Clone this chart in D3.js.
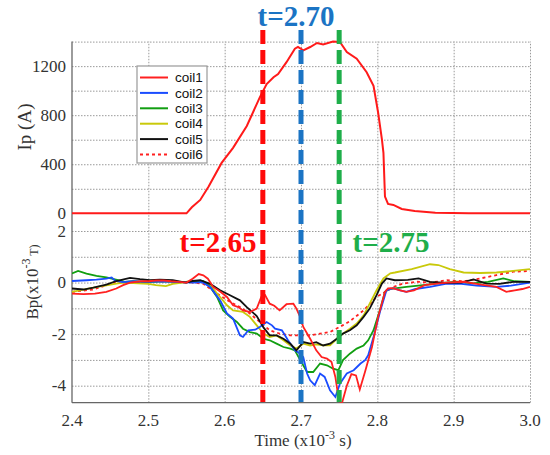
<!DOCTYPE html>
<html>
<head>
<meta charset="utf-8">
<script src="https://cdn.jsdelivr.net/npm/d3@7"></script>
<style>
  body { margin: 0; background: #fff; }
  svg { display: block; }
  .grid line { stroke: #9a9a9a; stroke-dasharray: 1.5,1.5; stroke-width: 1; }
  .grid path { display: none; }
</style>
</head>
<body>
<svg id="chart" width="550" height="455"></svg>
<script>
// ---- data ----
var timeTicks = [2.4, 2.5, 2.6, 2.7, 2.8, 2.9, 3.0];
var ipTicks = [0, 400, 800, 1200];
var bpTicks = [2, 0, -2, -4];
var markerTimes = [2.65, 2.70, 2.75];
var markerLabels = ["t=2.65", "t=2.70", "t=2.75"];
var coilNames = ["coil1", "coil2", "coil3", "coil4", "coil5", "coil6"];

// plasma current Ip (A) vs time (x10^-3 s)
var ipCurve = [[2.40,0],[2.550,0],[2.557,49],[2.568,109],[2.579,219],[2.596,411],[2.611,534],
  [2.629,712],[2.646,945],[2.655,1054],[2.664,1109],[2.670,1136],[2.681,1232],[2.692,1342],
  [2.696,1356],[2.703,1328],[2.712,1356],[2.721,1389],[2.729,1377],[2.742,1400],[2.751,1397],
  [2.760,1315],[2.773,1260],[2.786,1150],[2.795,1040],[2.801,822],[2.806,602],[2.808,493],
  [2.810,136],[2.814,76],[2.821,68],[2.832,35],[2.849,19],[2.876,5],[2.92,0],[3.0,0]];

// Bp (x10^-3 T) for each coil
var coil1 = [[2.400,-0.43],[2.415,-0.45],[2.430,-0.43],[2.445,-0.36],[2.458,-0.23],[2.467,-0.10],
  [2.476,0.00],[2.49,0.05],[2.50,0.05],[2.51,0.08],[2.52,0.08],[2.53,0.05],[2.54,0.03],[2.55,0.0],
  [2.558,0.15],[2.566,0.33],[2.572,0.28],[2.578,0.15],[2.585,-0.17],[2.594,-0.35],[2.603,-0.56],
  [2.611,-0.88],[2.618,-0.95],[2.624,-1.08],[2.633,-1.14],[2.642,-1.01],[2.648,-0.56],[2.653,-0.49],
  [2.659,-0.82],[2.665,-0.90],[2.672,-1.08],[2.681,-0.84],[2.690,-0.82],[2.694,-1.01],[2.699,-1.34],
  [2.703,-1.72],[2.712,-2.18],[2.720,-2.63],[2.727,-2.89],[2.734,-2.95],[2.740,-3.08],[2.745,-3.66],
  [2.749,-4.44],[2.753,-4.75],[2.760,-4.0],[2.766,-3.55],[2.772,-3.6],[2.777,-4.15],[2.784,-3.45],
  [2.793,-2.5],[2.801,-1.34],[2.810,-0.36],[2.814,-0.23],[2.820,-0.22],[2.830,-0.30],[2.838,-0.36],
  [2.848,-0.30],[2.862,-0.10],[2.875,-0.05],[2.891,0.0],[2.913,0.03],[2.930,-0.05],[2.945,-0.12],
  [2.956,-0.17],[2.969,-0.36],[2.980,-0.30],[2.990,-0.25],[3.0,-0.17]];
var coil2 = [[2.400,0.06],[2.419,0.09],[2.432,0.11],[2.445,0.15],[2.452,0.20],[2.456,0.08],
  [2.466,0.02],[2.48,0.05],[2.50,0.03],[2.52,0.05],[2.54,0.02],[2.56,0.0],[2.57,0.02],[2.581,-0.17],
  [2.594,-0.69],[2.603,-1.2],[2.611,-1.4],[2.620,-2.05],[2.624,-2.11],[2.631,-1.85],[2.640,-1.83],
  [2.646,-1.72],[2.655,-1.53],[2.662,-1.66],[2.666,-1.79],[2.675,-1.85],[2.683,-2.24],[2.692,-2.63],
  [2.699,-2.76],[2.703,-2.89],[2.708,-3.53],[2.712,-3.79],[2.718,-3.98],[2.725,-3.53],[2.731,-3.66],
  [2.738,-4.18],[2.745,-4.44],[2.751,-3.92],[2.760,-3.53],[2.769,-3.40],[2.778,-3.14],[2.784,-3.01],
  [2.788,-2.82],[2.795,-2.11],[2.804,-1.08],[2.812,-0.30],[2.821,-0.22],[2.830,-0.30],[2.838,-0.36],
  [2.850,-0.25],[2.869,-0.17],[2.891,-0.04],[2.91,-0.05],[2.93,-0.12],[2.956,-0.17],[2.975,-0.12],[3.0,0.0]];
var coil3 = [[2.400,0.35],[2.408,0.45],[2.419,0.35],[2.432,0.26],[2.445,0.2],[2.459,0.1],[2.469,0.03],
  [2.48,0.05],[2.50,0.02],[2.52,0.05],[2.54,0.02],[2.56,0.02],[2.572,0.05],[2.581,-0.17],[2.590,-0.56],
  [2.598,-1.08],[2.607,-1.33],[2.616,-1.53],[2.624,-1.79],[2.633,-1.92],[2.642,-1.98],[2.651,-2.18],
  [2.659,-2.24],[2.668,-2.37],[2.677,-2.50],[2.686,-2.56],[2.692,-2.63],[2.699,-3.01],[2.708,-3.47],
  [2.716,-3.47],[2.725,-3.14],[2.734,-3.21],[2.742,-3.34],[2.749,-3.40],[2.755,-3.01],[2.764,-2.76],
  [2.773,-2.56],[2.782,-2.44],[2.788,-2.24],[2.795,-1.85],[2.804,-1.01],[2.810,-0.36],[2.816,-0.25],
  [2.838,-0.17],[2.860,-0.10],[2.88,-0.03],[2.904,0.03],[2.925,-0.03],[2.945,0.03],[2.965,0.16],
  [2.98,0.05],[3.0,0.03]];
var coil4 = [[2.400,-0.36],[2.410,-0.30],[2.428,-0.2],[2.445,-0.11],[2.458,-0.04],[2.467,0.0],
  [2.48,-0.02],[2.50,-0.05],[2.51,-0.1],[2.523,-0.14],[2.532,-0.05],[2.545,0.0],[2.555,0.06],
  [2.565,0.05],[2.572,0.02],[2.581,-0.1],[2.594,-0.56],[2.603,-0.88],[2.611,-1.08],[2.624,-1.14],
  [2.633,-1.33],[2.642,-1.66],[2.651,-1.98],[2.659,-2.11],[2.668,-2.05],[2.677,-2.24],[2.686,-2.44],
  [2.694,-2.56],[2.703,-2.37],[2.712,-2.44],[2.720,-2.40],[2.729,-2.44],[2.738,-2.44],[2.747,-2.18],
  [2.755,-1.98],[2.764,-1.79],[2.773,-1.59],[2.782,-1.27],[2.790,-0.82],[2.799,-0.30],[2.808,0.16],
  [2.817,0.36],[2.823,0.39],[2.845,0.52],[2.869,0.71],[2.880,0.68],[2.895,0.52],[2.913,0.39],
  [2.935,0.37],[2.956,0.39],[2.978,0.45],[3.0,0.52]];
var coil5 = [[2.400,-0.23],[2.415,-0.27],[2.428,-0.2],[2.445,-0.08],[2.458,0.06],[2.476,0.18],
  [2.489,0.13],[2.502,0.09],[2.515,0.11],[2.532,0.09],[2.549,0.0],[2.558,0.06],[2.568,0.09],
  [2.581,-0.05],[2.594,-0.3],[2.607,-0.49],[2.620,-0.69],[2.629,-0.95],[2.642,-1.3],[2.651,-1.75],
  [2.659,-2.05],[2.668,-2.05],[2.677,-2.18],[2.686,-2.37],[2.694,-2.63],[2.703,-2.31],[2.712,-2.37],
  [2.720,-2.31],[2.729,-2.44],[2.738,-2.37],[2.747,-2.18],[2.755,-1.98],[2.764,-1.85],[2.773,-1.66],
  [2.782,-1.33],[2.790,-1.01],[2.799,-0.49],[2.806,-0.04],[2.812,0.16],[2.823,0.09],[2.840,0.10],
  [2.854,0.16],[2.869,0.03],[2.891,-0.01],[2.910,0.0],[2.926,0.12],[2.943,-0.04],[2.96,-0.05],
  [2.978,0.03],[3.0,0.03]];
var coil6 = [[2.400,-0.36],[2.428,-0.27],[2.445,-0.1],[2.458,0.03],[2.476,0.0],[2.50,0.05],[2.52,0.05],
  [2.54,0.02],[2.56,0.0],[2.572,-0.05],[2.590,-0.43],[2.607,-0.75],[2.620,-0.95],[2.633,-1.20],
  [2.646,-1.53],[2.659,-1.85],[2.672,-1.98],[2.686,-2.05],[2.699,-2.05],[2.712,-2.05],[2.725,-1.98],
  [2.738,-1.92],[2.755,-1.65],[2.764,-1.50],[2.782,-1.08],[2.799,-0.56],[2.821,-0.17],[2.834,-0.04],
  [2.852,0.03],[2.87,0.0],[2.891,0.09],[2.913,0.05],[2.935,0.16],[2.956,0.29],[2.978,0.42],[3.0,0.45]];

// ---- styles ----
var coilColors = ["#ff2020", "#1a4cff", "#119e11", "#c9c90a", "#111111", "#ff2020"];
var markerColors = ["#ff0a0a", "#1b74c4", "#1fae4a"];
var serif = "Liberation Serif";
var sans = "Liberation Sans";

var svg = d3.select("#chart");
var left = 72, right = 530;

var x = d3.scaleLinear().domain([2.4, 3.0]).range([left, right]);
var yIp = d3.scaleLinear().domain([0, 1400]).range([213.3, 41.6]);
var yBp = d3.scaleLinear().domain([-4.66, 2.62]).range([402.7, 215]);

// grids
function gridY(scale, values) {
  svg.append("g").attr("class", "grid")
    .attr("transform", "translate(" + left + ",0)")
    .call(d3.axisLeft(scale).tickValues(values).tickSize(-(right - left)).tickFormat(""));
}
function gridX(scale) {
  var r = scale.range();
  svg.append("g").attr("class", "grid")
    .attr("transform", "translate(0," + r[0] + ")")
    .call(d3.axisBottom(x).tickValues(timeTicks.slice(1)).tickSize(-(r[0] - r[1])).tickFormat(""));
}
gridY(yIp, d3.range(200, 1401, 200));
gridX(yIp);
gridY(yBp, d3.range(-4, 3, 1));
gridX(yBp);

// tick labels
function leftLabels(scale, values) {
  svg.append("g").selectAll("text").data(values).join("text")
    .attr("x", left - 6).attr("y", function(d){ return scale(d); }).attr("dy", "0.34em")
    .attr("text-anchor", "end").attr("font-family", serif).attr("font-size", 17).attr("fill", "#333")
    .text(function(d){ return d; });
}
leftLabels(yIp, ipTicks);
leftLabels(yBp, bpTicks);

svg.append("g").selectAll("text").data(timeTicks).join("text")
  .attr("x", function(d){ return x(d); }).attr("y", 426)
  .attr("text-anchor", "middle").attr("font-family", serif).attr("font-size", 17).attr("fill", "#333")
  .text(d3.format(".1f"));

// axis lines
svg.append("line").attr("x1", left).attr("x2", right).attr("y1", 402.7).attr("y2", 402.7)
  .attr("stroke", "#666").attr("stroke-width", 1.3);
svg.append("line").attr("x1", left).attr("x2", left).attr("y1", 41.6).attr("y2", 402.7)
  .attr("stroke", "#666").attr("stroke-width", 1.3);

// Ip curve
var ipLine = d3.line().x(function(d){ return x(d[0]); }).y(function(d){ return yIp(d[1]); });
svg.append("path").datum(ipCurve).attr("d", ipLine)
  .attr("fill", "none").attr("stroke", "#ff1a1a").attr("stroke-width", 2);

// Bp curves, clipped to the lower panel
svg.append("clipPath").attr("id", "clipB").append("rect")
  .attr("x", left).attr("y", yBp.range()[1]).attr("width", right - left)
  .attr("height", yBp.range()[0] - yBp.range()[1]);

var bpLine = d3.line().x(function(d){ return x(d[0]); }).y(function(d){ return yBp(d[1]); });
var coils = [coil1, coil2, coil3, coil4, coil5, coil6];
var drawOrder = [5, 3, 2, 1, 4, 0];
var gB = svg.append("g").attr("clip-path", "url(#clipB)");
drawOrder.forEach(function(i){
  gB.append("path").datum(coils[i]).attr("d", bpLine)
    .attr("fill", "none").attr("stroke", coilColors[i]).attr("stroke-width", 1.8)
    .attr("stroke-dasharray", i == 5 ? "3,3" : null);
});

// time markers
markerTimes.forEach(function(t, i){
  svg.append("line").attr("x1", x(t)).attr("x2", x(t)).attr("y1", 30).attr("y2", 402)
    .attr("stroke", markerColors[i]).attr("stroke-width", 5).attr("stroke-dasharray", "14,6");
});
var labelPos = [[218, 252], [x(2.70) - 5, 26], [391, 252]];
markerLabels.forEach(function(s, i){
  svg.append("text").attr("x", labelPos[i][0]).attr("y", labelPos[i][1])
    .attr("text-anchor", "middle").attr("font-family", serif).attr("font-weight", "bold")
    .attr("font-size", 29).attr("fill", markerColors[i]).text(s);
});

// legend
var leg = svg.append("g").attr("transform", "translate(137,66)");
leg.append("rect").attr("width", 70).attr("height", 97)
  .attr("fill", "#fff").attr("stroke", "#999").attr("stroke-width", 1.2);
coilNames.forEach(function(name, i){
  var yy = 11.5 + i * 15.4;
  leg.append("line").attr("x1", 3).attr("x2", 31).attr("y1", yy).attr("y2", yy)
    .attr("stroke", coilColors[i]).attr("stroke-width", 2)
    .attr("stroke-dasharray", i == 5 ? "3,3" : null);
  leg.append("text").attr("x", 38).attr("y", yy).attr("dy", "0.35em")
    .attr("font-family", sans).attr("font-size", 13.5).attr("fill", "#111").text(name);
});

// axis titles
svg.append("text").attr("transform", "translate(31,127) rotate(-90)")
  .attr("text-anchor", "middle").attr("font-family", serif).attr("font-size", 19).attr("fill", "#333")
  .text("Ip (A)");

var bpT = svg.append("text").attr("transform", "translate(38,282) rotate(-90)")
  .attr("text-anchor", "middle").attr("font-family", serif).attr("font-size", 17).attr("fill", "#333");
bpT.append("tspan").text("Bp(x10");
bpT.append("tspan").attr("dy", -8).attr("font-size", 12).text("-3");
bpT.append("tspan").attr("dy", 8).attr("font-size", 12).text(" T)");

var tT = svg.append("text").attr("x", 303).attr("y", 446)
  .attr("text-anchor", "middle").attr("font-family", serif).attr("font-size", 17).attr("fill", "#333");
tT.append("tspan").text("Time (x10");
tT.append("tspan").attr("dy", -7).attr("font-size", 12).text("-3");
tT.append("tspan").attr("dy", 7).text(" s)");
</script>
</body>
</html>
